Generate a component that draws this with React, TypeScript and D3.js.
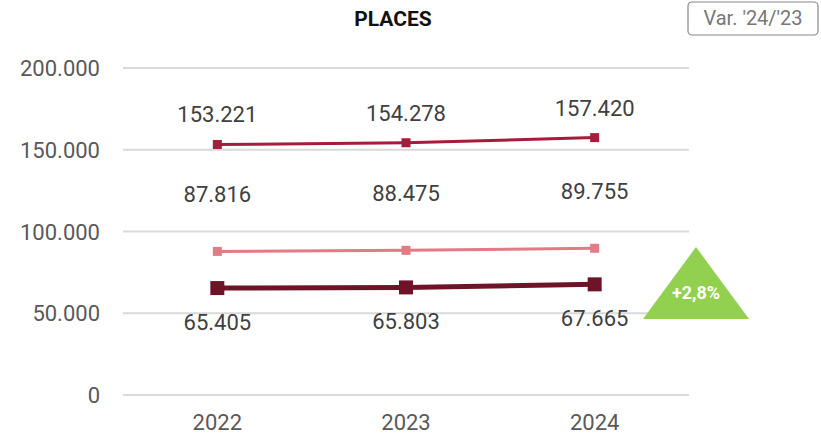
import React from "react";
import * as d3 from "d3";

const years = ["2022", "2023", "2024"];
const seriesTop = [153221, 154278, 157420];
const seriesMid = [87816, 88475, 89755];
const seriesLow = [65405, 65803, 67665];
const yTicks = [0, 50000, 100000, 150000, 200000];
const variation = "+2,8%";

const fmt = (v: number) => d3.format(",")(v).replace(/,/g, ".");

const App = () => {
  const width = 821;
  const height = 436;
  const x = d3.scaleBand().domain(years).range([123, 689]).padding(0);
  const y = d3.scaleLinear().domain([0, 200000]).range([395, 68]);
  const cx = (d: string) => (x(d) as number) + x.bandwidth() / 2;
  const line = d3
    .line<number>()
    .x((_, i) => cx(years[i]))
    .y((d) => y(d));

  const series = [
    { data: seriesTop, color: "#a51d3d", stroke: 3, marker: 9, dy: -30 },
    { data: seriesMid, color: "#e27b84", stroke: 3, marker: 9, dy: -57 },
    { data: seriesLow, color: "#6e1428", stroke: 5, marker: 14, dy: 34 },
  ];

  const font = "Roboto, 'DejaVu Sans', sans-serif";

  return (
    <svg
      width={width}
      height={height}
      style={{ position: "absolute", left: 0, top: 0 }}
      fontFamily={font}
    >
      <rect width={width} height={height} fill="#fff" />
      <text x={393} y={26} textAnchor="middle" fontWeight="bold" fontSize={21} fill="#111">
        PLACES
      </text>
      <rect x={688} y={2} width={130} height={33} rx={4} fill="#fff" stroke="#888" strokeWidth={1.2} />
      <text x={753} y={25} textAnchor="middle" fontSize={20} fill="#777">
        Var. '24/'23
      </text>

      {yTicks.map((t) => (
        <g key={t}>
          <line x1={123} x2={689} y1={y(t)} y2={y(t)} stroke="#d9d9d9" strokeWidth={2} />
          <text x={100} y={y(t) + 8} textAnchor="end" fontSize={22} fill="#595959">
            {fmt(t)}
          </text>
        </g>
      ))}

      {years.map((yr) => (
        <text key={yr} x={cx(yr)} y={430} textAnchor="middle" fontSize={22} fill="#595959">
          {yr}
        </text>
      ))}

      {series.map((s, si) => (
        <g key={si}>
          <path d={line(s.data) || ""} fill="none" stroke={s.color} strokeWidth={s.stroke} />
          {s.data.map((v, i) => (
            <rect
              key={i}
              x={cx(years[i]) - s.marker / 2}
              y={y(v) - s.marker / 2}
              width={s.marker}
              height={s.marker}
              fill={s.color}
            />
          ))}
          {s.data.map((v, i) => (
            <text
              key={"l" + i}
              x={cx(years[i])}
              y={y(v) + s.dy + 8}
              textAnchor="middle"
              fontSize={22}
              fill="#404040"
            >
              {fmt(v)}
            </text>
          ))}
        </g>
      ))}

      <polygon points="696,247 643,319 749,319" fill="#92d050" />
      <text x={696} y={299} textAnchor="middle" fontWeight="bold" fontSize={18} fill="#fff">
        {variation}
      </text>
    </svg>
  );
};

export default App;
